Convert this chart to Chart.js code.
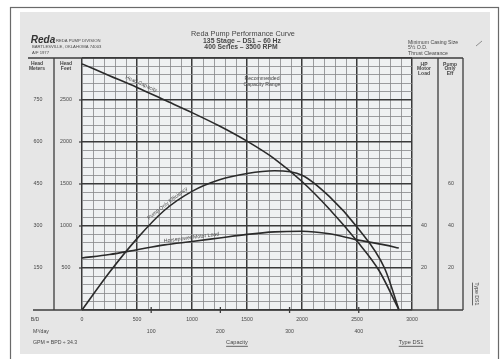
<!DOCTYPE html>
<html><head><meta charset="utf-8">
<script src="https://cdn.jsdelivr.net/npm/chart.js@4.4.1/dist/chart.umd.min.js"></script>
<style>html,body{margin:0;padding:0;background:#fff;width:502px;height:359px;overflow:hidden}canvas{display:block}</style>
</head><body><canvas id="c" width="502" height="359"></canvas>
<script>
// ---- data ----
const headCapacity = [0,250,500,750,1000,1250,1500,1750,2000,2250,2500,2700,2882];
const headFeet     = [2930,2790,2650,2500,2350,2190,2010,1800,1530,1200,820,470,0];
const effCapacity  = [0,250,500,750,1000,1250,1500,1750,2000,2250,2500,2750,2882];
const pumpEffPct   = [0,18,34,47.5,56.5,62,65,66.3,64.2,54,39.5,20,0];
const hpCapacity   = [0,250,500,750,1000,1250,1500,1750,2000,2250,2500,2750,2880];
const motorLoadHP  = [24.8,26.4,28.7,31,32.6,34.3,36,37.2,37.5,36.3,33.4,31,29.5];
const bpdTicks   = [0,500,1000,1500,2000,2500,3000];
const m3dTicks   = [100,200,300,400];
const feetTicks  = [500,1000,1500,2000,2500];
const meterTicks = ['150','300','450','600','750'];
const hpTicks    = [20,40];
const effTicks   = [20,40,60];

const pts = (xs, ys) => xs.map((x, i) => ({x, y: ys[i]}));
const interp = (xs, ys, q) => { for (let i = 1; i < xs.length; i++) if (q <= xs[i]) { const t = (q - xs[i-1]) / (xs[i] - xs[i-1]); return ys[i-1] + t * (ys[i] - ys[i-1]); } return ys[ys.length-1]; };

const INK = '#474747';
function txt(ctx, s, x, y, size, opt = {}) {
  ctx.save();
  ctx.font = (opt.style || '') + ' ' + size + 'px "Liberation Sans", Arial, sans-serif';
  ctx.fillStyle = opt.color || INK;
  ctx.textAlign = opt.align || 'center';
  ctx.textBaseline = 'middle';
  ctx.translate(x, y);
  if (opt.rot) ctx.rotate(opt.rot);
  ctx.fillText(s, 0, 0);
  if (opt.underline) {
    const w = ctx.measureText(s).width;
    const x0 = opt.align === 'left' ? 0 : -w / 2;
    ctx.fillRect(x0, size * 0.6, w, 0.8);
  }
  ctx.restore();
}
function line(ctx, x1, y1, x2, y2, w, c) {
  ctx.save(); ctx.strokeStyle = c || '#3c3c3c'; ctx.lineWidth = w || 1;
  ctx.beginPath(); ctx.moveTo(x1, y1); ctx.lineTo(x2, y2); ctx.stroke(); ctx.restore();
}
function curveLabel(ctx, chart, xs, ys, axisId, q, s, size, off) {
  const X = chart.scales.x, Y = chart.scales[axisId];
  const ax = X.getPixelForValue(q - 120), ay = Y.getPixelForValue(interp(xs, ys, q - 120));
  const bx = X.getPixelForValue(q + 120), by = Y.getPixelForValue(interp(xs, ys, q + 120));
  const ang = Math.atan2(by - ay, bx - ax);
  const cx = X.getPixelForValue(q), cy = Y.getPixelForValue(interp(xs, ys, q));
  txt(ctx, s, cx + Math.sin(ang) * off, cy - Math.cos(ang) * off, size, {rot: ang});
}

const sheet = {
  id: 'sheet',
  beforeDraw(chart) {
    const ctx = chart.ctx, a = chart.chartArea;
    ctx.save();
    ctx.fillStyle = '#ffffff'; ctx.fillRect(0, 0, 502, 359);
    ctx.fillStyle = '#e6e6e6'; ctx.fillRect(20, 12, 470, 342);
    ctx.fillStyle = '#eff1f2'; ctx.fillRect(a.left, a.top, a.right - a.left, a.bottom - a.top);
    ctx.strokeStyle = '#6a6a6a'; ctx.lineWidth = 1.2;
    ctx.strokeRect(10.5, 7.5, 488, 360);
    ctx.restore();
  },
  afterDatasetsDraw(chart) {
    const ctx = chart.ctx, a = chart.chartArea, X = chart.scales.x, Y = chart.scales.y;
    const E = chart.scales.eff, H = chart.scales.hp;
    // table frame
    line(ctx, 28, a.top, 463, a.top, 1.3);
    line(ctx, 33, a.bottom, 463, a.bottom, 1.6);
    [54, 438, 463].forEach(x => line(ctx, x, a.top, x, a.bottom, 1.3));
    // headers
    txt(ctx, 'Reda Pump Performance Curve', 243, 34, 7.3);
    txt(ctx, '135 Stage \u2013 DS1 \u2013 60 Hz', 242, 40.7, 6.8, {style: 'bold'});
    txt(ctx, '400 Series \u2013 3500 RPM', 241, 47.4, 6.8, {style: 'bold'});
    txt(ctx, 'Reda', 43, 40, 10, {style: 'italic bold', color: '#333'});
    txt(ctx, 'REDA PUMP DIVISION', 56, 40.5, 4.2, {align: 'left'});
    txt(ctx, 'BARTLESVILLE, OKLAHOMA 74003', 32, 47, 4.2, {align: 'left'});
    txt(ctx, 'A/F 1977', 32, 53, 4.2, {align: 'left'});
    txt(ctx, 'Minimum Casing Size', 408, 43, 5.2, {align: 'left'});
    txt(ctx, '5\u00BD O.D.', 408, 48, 5.2, {align: 'left'});
    txt(ctx, 'Thrust Clearance', 408, 53.5, 5.2, {align: 'left'});
    line(ctx, 476, 46, 482, 41, 0.8, '#777');
    txt(ctx, 'Head', 37, 63.5, 5, {style: 'bold'}); txt(ctx, 'Meters', 37, 68.5, 5, {style: 'bold'});
    txt(ctx, 'Head', 66, 63.5, 5, {style: 'bold'}); txt(ctx, 'Feet', 66, 68.5, 5, {style: 'bold'});
    txt(ctx, 'HP', 424, 64.5, 5, {style: 'bold'}); txt(ctx, 'Motor', 424, 69, 5, {style: 'bold'}); txt(ctx, 'Load', 424, 73.5, 5, {style: 'bold'});
    txt(ctx, 'Pump', 450, 64.5, 5, {style: 'bold'}); txt(ctx, 'Only', 450, 69, 5, {style: 'bold'}); txt(ctx, 'Eff', 450, 73.5, 5, {style: 'bold'});
    // left scales
    feetTicks.forEach((v, i) => {
      const y = Y.getPixelForValue(v);
      txt(ctx, String(v), 66, y, 5.3);
      txt(ctx, meterTicks[i], 38, y, 5.3);
      line(ctx, a.left - 3, y, a.left, y, 1.2);
    });
    // right scales
    hpTicks.forEach(v => txt(ctx, String(v), 424, H.getPixelForValue(v), 5.3));
    effTicks.forEach(v => txt(ctx, String(v), 451, E.getPixelForValue(v), 5.3));
    // bottom scales
    txt(ctx, 'B/D', 35, 320, 5.2);
    bpdTicks.forEach(v => txt(ctx, String(v), X.getPixelForValue(v), 320, 5.2));
    txt(ctx, 'M\u00B3/day', 33, 331.5, 5.2, {align: 'left'});
    m3dTicks.forEach(v => {
      const x = X.getPixelForValue(v * 6.2898);
      txt(ctx, String(v), x, 331.5, 5.2);
      line(ctx, x, a.bottom - 3, x, a.bottom + 3, 1.3);
    });
    txt(ctx, 'GPM = BPD \u00F7 34.3', 33, 342.5, 5.2, {align: 'left'});
    txt(ctx, 'Capacity', 237, 342.5, 5.6, {underline: true});
    txt(ctx, 'Type DS1', 411, 342.5, 5.6, {underline: true});
    txt(ctx, 'Type DS1', 476, 294, 5.2, {rot: Math.PI / 2, underline: true});
    // curve labels
    curveLabel(ctx, chart, headCapacity, headFeet, 'y', 520, 'Head Capacity', 5.2, 5);
    curveLabel(ctx, chart, effCapacity, pumpEffPct, 'eff', 800, 'Pump Only Efficiency', 5.2, 4);
    curveLabel(ctx, chart, hpCapacity, motorLoadHP, 'hp', 1000, 'Horsepower Motor Load', 5.2, 4);
    txt(ctx, 'Recommended', 262, 79, 5.2);
    txt(ctx, 'Capacity Range', 262, 85, 5.2);
  }
};

const major = c => c.tick && Math.round(c.tick.value) % 500 === 0;
const gridOpts = {
  drawTicks: false,
  color: c => major(c) ? '#3a3a3a' : '#858788',
  lineWidth: c => major(c) ? 1.5 : 0.8
};
const ds = (label, data, axis) => ({label, data, yAxisID: axis, borderColor: '#2a2a2a', borderWidth: 1.6,
  pointRadius: 0, fill: false, cubicInterpolationMode: 'monotone', clip: false});

new Chart(document.getElementById('c'), {
  type: 'line',
  data: {datasets: [
    ds('Head Capacity', pts(headCapacity, headFeet), 'y'),
    ds('Pump Only Efficiency', pts(effCapacity, pumpEffPct), 'eff'),
    ds('Horsepower Motor Load', pts(hpCapacity, motorLoadHP), 'hp')
  ]},
  options: {
    responsive: false, animation: false, devicePixelRatio: 1,
    layout: {padding: {left: 82, right: 90, top: 58, bottom: 49}},
    plugins: {legend: {display: false}, tooltip: {enabled: false}},
    scales: {
      x: {type: 'linear', min: 0, max: 3000, ticks: {display: false, stepSize: 100, maxTicksLimit: 100}, grid: gridOpts, border: {display: false}},
      y: {type: 'linear', min: 0, max: 3000, ticks: {display: false, stepSize: 100, maxTicksLimit: 100}, grid: gridOpts, border: {display: false}},
      eff: {type: 'linear', min: 0, max: 120, display: false},
      hp: {type: 'linear', min: 0, max: 120, display: false}
    }
  },
  plugins: [sheet]
});
</script></body></html>
